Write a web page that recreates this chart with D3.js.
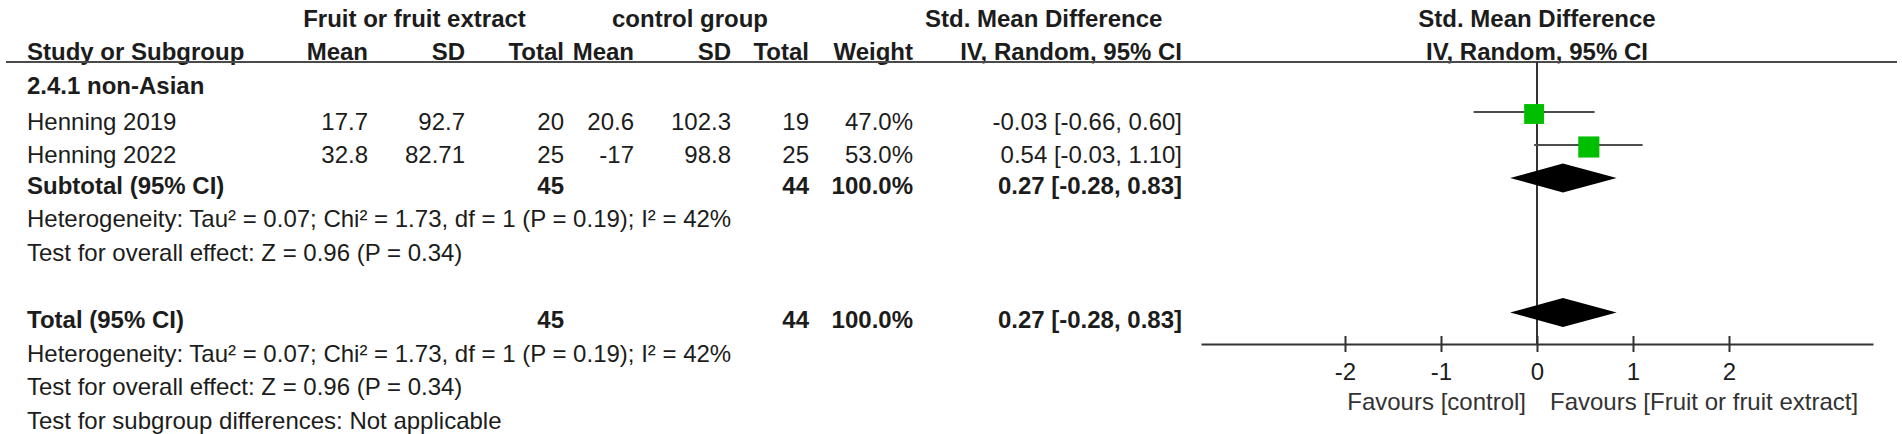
<!DOCTYPE html>
<html><head><meta charset="utf-8">
<script src="https://cdn.jsdelivr.net/npm/d3@7"></script>
<style>
body{margin:0;background:#fff}
svg{display:block}
text{font-family:"Liberation Sans",Arial,Helvetica,sans-serif;font-size:24px;fill:#1c1c1c}
</style>
</head><body>
<svg id="chart" width="1902" height="434"></svg>
<script>
// ---------- data ----------
const subgroupTitle = "2.4.1 non-Asian";
const studies  = ["Henning 2019", "Henning 2022"];
const expMean  = [17.7, 32.8];
const expSD    = [92.7, 82.71];
const expN     = [20, 25];
const ctlMean  = [20.6, -17];
const ctlSD    = [102.3, 98.8];
const ctlN     = [19, 25];
const weights  = [47.0, 53.0];
const smd      = [-0.03, 0.54];
const ciLow    = [-0.66, -0.03];
const ciHigh   = [0.60, 1.10];
const pooled   = [0.27, -0.28, 0.83];   // estimate, low, high
const totalN   = [45, 44];
const hetText  = "Heterogeneity: Tau\u00B2 = 0.07; Chi\u00B2 = 1.73, df = 1 (P = 0.19); I\u00B2 = 42%";
const zText    = "Test for overall effect: Z = 0.96 (P = 0.34)";
const diffText = "Test for subgroup differences: Not applicable";
const tickValues = [-2, -1, 0, 1, 2];
const axisDomain = [-3.5, 3.5];
const favourLabels = ["Favours [control]", "Favours [Fruit or fruit extract]"];

// ---------- layout ----------
const svg = d3.select("#chart");
svg.append("rect").attr("width",1902).attr("height",434).attr("fill","#fff");

const col = {name:27, eMean:368, eSD:465, eN:564, cMean:634, cSD:731, cN:809, w:913, ci:1182};
const Y = {h1:27, h2:60, sub:93.5, s:[130,163], subtotal:193.5, het1:227, z1:261, total:328, het2:361.5, z2:395, diff:429};
const markOff = 16;

const x = d3.scaleLinear().domain(axisDomain).range([1201, 1873]);
const axisY = 344;
const f2 = v => v.toFixed(2);
const ciStr = (e,l,h) => `${f2(e)} [${f2(l)}, ${f2(h)}]`;

function txt(s, xx, yy, anchor="start", bold=false, fill=null){
  const t = svg.append("text").attr("x",xx).attr("y",yy).attr("text-anchor",anchor).text(s);
  if(bold) t.attr("font-weight","bold");
  if(fill) t.style("fill",fill);
  return t;
}

// header
txt("Fruit or fruit extract", 414.5, Y.h1, "middle", true);
txt("control group", 690, Y.h1, "middle", true);
txt("Std. Mean Difference", 925, Y.h1, "start", true);
txt("Std. Mean Difference", x(0), Y.h1, "middle", true);
txt("Study or Subgroup", col.name, Y.h2, "start", true);
txt("Mean", col.eMean, Y.h2, "end", true);
txt("SD", col.eSD, Y.h2, "end", true);
txt("Total", col.eN, Y.h2, "end", true);
txt("Mean", col.cMean, Y.h2, "end", true);
txt("SD", col.cSD, Y.h2, "end", true);
txt("Total", col.cN, Y.h2, "end", true);
txt("Weight", col.w, Y.h2, "end", true);
txt("IV, Random, 95% CI", col.ci, Y.h2, "end", true);
txt("IV, Random, 95% CI", x(0), Y.h2, "middle", true);

svg.append("line").attr("x1",6).attr("x2",1897).attr("y1",62).attr("y2",62)
  .attr("stroke","#4a4a4a").attr("stroke-width",2.2);

// subgroup
txt(subgroupTitle, col.name, Y.sub, "start", true);
studies.forEach((s,i)=>{
  const yy = Y.s[i];
  txt(s, col.name, yy);
  txt(String(expMean[i]), col.eMean, yy, "end");
  txt(String(expSD[i]), col.eSD, yy, "end");
  txt(String(expN[i]), col.eN, yy, "end");
  txt(String(ctlMean[i]), col.cMean, yy, "end");
  txt(String(ctlSD[i]), col.cSD, yy, "end");
  txt(String(ctlN[i]), col.cN, yy, "end");
  txt(weights[i].toFixed(1)+"%", col.w, yy, "end");
  txt(ciStr(smd[i], ciLow[i], ciHigh[i]), col.ci, yy, "end");
});
const totW = d3.sum(weights);
[[Y.subtotal,"Subtotal (95% CI)"],[Y.total,"Total (95% CI)"]].forEach(([yy,lab])=>{
  txt(lab, col.name, yy, "start", true);
  txt(String(totalN[0]), col.eN, yy, "end", true);
  txt(String(totalN[1]), col.cN, yy, "end", true);
  txt(totW.toFixed(1)+"%", col.w, yy, "end", true);
  txt(ciStr(pooled[0],pooled[1],pooled[2]), col.ci, yy, "end", true);
});
txt(hetText, col.name, Y.het1);
txt(zText, col.name, Y.z1);
txt(hetText, col.name, Y.het2);
txt(zText, col.name, Y.z2);
txt(diffText, col.name, Y.diff);

// plot: zero line
svg.append("line").attr("x1",x(0)).attr("x2",x(0)).attr("y1",62).attr("y2",axisY)
  .attr("stroke","#333").attr("stroke-width",2);

// study CIs and squares
studies.forEach((s,i)=>{
  const cy = Y.s[i]-markOff;
  svg.append("line").attr("x1",x(ciLow[i])).attr("x2",x(ciHigh[i]))
    .attr("y1",cy-2).attr("y2",cy-2).attr("stroke","#4d4d4d").attr("stroke-width",2.2);
  const sz = 2.9*Math.sqrt(weights[i]);
  svg.append("rect").attr("x",x(smd[i])-sz/2).attr("y",cy-sz/2)
    .attr("width",sz).attr("height",sz).attr("fill","#00bf00");
});

// diamonds
[Y.subtotal, Y.total].forEach(yy=>{
  const cy = yy-15.5, h = 14.5;
  svg.append("path")
    .attr("d",`M${x(pooled[1])},${cy}L${x(pooled[0])},${cy-h}L${x(pooled[2])},${cy}L${x(pooled[0])},${cy+h}Z`)
    .attr("fill","#000");
});

// axis
const axis = d3.axisBottom(x).tickValues(tickValues).tickFormat(d=>String(d)).tickSizeOuter(0);
const ag = svg.append("g").attr("transform",`translate(0,${axisY})`).call(axis);
ag.select(".domain").attr("stroke","#333").attr("stroke-width",2.2);
ag.selectAll(".tick line").attr("y1",-8).attr("y2",8).attr("stroke","#333").attr("stroke-width",2);
ag.selectAll(".tick text").attr("y",36).attr("dy",0)
  .attr("font-size",24).attr("font-family",'"Liberation Sans",Arial,sans-serif')
  .style("fill","#1c1c1c");

txt(favourLabels[0], x(0)-11, 410, "end", false, "#333");
txt(favourLabels[1], x(0)+13, 410, "start", false, "#333");
</script>
</body></html>
